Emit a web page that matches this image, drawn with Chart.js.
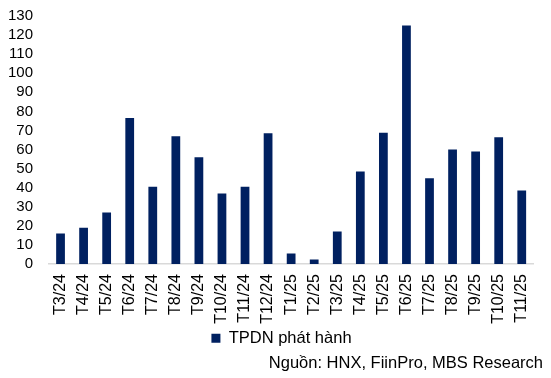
<!DOCTYPE html>
<html>
<head>
<meta charset="utf-8">
<script src="https://cdn.jsdelivr.net/npm/chart.js@4/dist/chart.umd.min.js"></script>
<style>
  html, body { margin: 0; padding: 0; background: #ffffff; }
  #wrap { width: 551px; height: 378px; position: relative; }
</style>
</head>
<body>
<div id="wrap"><canvas id="c"></canvas></div>
<script>
const categories = ["T3/24","T4/24","T5/24","T6/24","T7/24","T8/24","T9/24","T10/24","T11/24","T12/24",
                    "T1/25","T2/25","T3/25","T4/25","T5/25","T6/25","T7/25","T8/25","T9/25","T10/25","T11/25"];
const tpdnValues = [16, 19, 27, 76.5, 40.5, 67, 56, 37, 40.5, 68.5,
                    5.5, 2.3, 17, 48.5, 68.8, 125, 45, 60, 59, 66.5, 38.5];
const seriesName = "TPDN phát hành";
const sourceText = "Nguồn: HNX, FiinPro, MBS Research";
const yMin = 0, yMax = 130, yStep = 10;

const FONT = "'Liberation Sans', Arial, sans-serif";

const boxShift = {
  id: 'boxShift',
  afterLayout(chart) {
    chart.boxes.forEach(b => {
      if (b === chart.legend) { b.left += 7; b.right += 7; }
      else if (b.options && b.options.text === sourceText) { b.left -= 6; b.right -= 6; }
    });
  }
};

new Chart(document.getElementById('c'), {
  type: 'bar',
  data: {
    labels: categories,
    datasets: [{
      label: seriesName,
      data: tpdnValues,
      backgroundColor: '#002060',
      borderWidth: 0,
      barPercentage: 0.38,
      categoryPercentage: 1.0
    }]
  },
  options: {
    responsive: true,
    maintainAspectRatio: false,
    animation: false,
    devicePixelRatio: 1,
    layout: { padding: { top: 16, right: 2, left: 0, bottom: 0 } },
    scales: {
      x: {
        grid: { display: false, drawTicks: false },
        border: { display: true, color: '#d9d9d9', width: 1.5 },
        ticks: {
          color: '#000',
          font: { family: FONT, size: 16 },
          minRotation: 90, maxRotation: 90,
          autoSkip: false,
          padding: 10
        },
        afterFit(scale) { scale.height = 62; }
      },
      y: {
        min: yMin, max: yMax,
        grid: { display: false, drawTicks: false },
        border: { display: false },
        ticks: {
          stepSize: yStep,
          autoSkip: false,
          color: '#000',
          font: { family: FONT, size: 15 },
          padding: 16
        },
        afterFit(scale) { scale.width = 49; scale.paddingTop = 0; scale.paddingBottom = 0; }
      }
    },
    plugins: {
      legend: {
        position: 'bottom',
        labels: {
          color: '#000',
          font: { family: FONT, size: 16.5 },
          boxWidth: 9, boxHeight: 9,
          padding: 4
        }
      },
      subtitle: {
        display: true,
        text: sourceText,
        position: 'bottom',
        align: 'end',
        color: '#000',
        font: { family: FONT, size: 16.5, weight: 'normal', lineHeight: 1.0 },
        padding: { top: -1, bottom: 6 }
      },
      tooltip: { enabled: false }
    }
  },
  plugins: [boxShift]
});
</script>
</body>
</html>
